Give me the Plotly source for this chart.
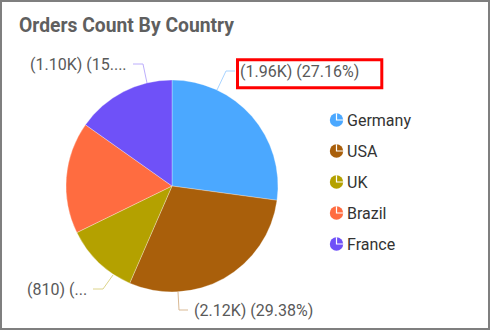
import plotly.graph_objects as go

# ---- data ----
countries = ["Germany", "USA", "UK", "Brazil", "France"]
orders = [1960, 2120, 810, 1230, 1097]
colors = ["#4BA8FF", "#A95F0B", "#B4A100", "#FF6C40", "#6F51F8"]
line_colors = ["#A9D4FF", "#D9B994", "#DDD48A", "#FFB8A3", "#BCAEFC"]
label_texts = ["(1.96K) (27.16%)", "(2.12K) (29.38%)", "(810) (...", None, "(1.10K) (15...."]

W, H = 490, 330
fig = go.Figure()

fig.add_trace(go.Pie(
    labels=countries, values=orders, sort=False, direction="clockwise",
    rotation=0, textinfo="none", showlegend=False,
    marker=dict(colors=colors, line=dict(color="rgba(255,255,255,0.6)", width=0.5)),
    domain=dict(x=[66 / W, 278 / W], y=[38 / H, 250 / H]),
))
# invisible helper trace for pixel-coordinate overlay axes
fig.add_trace(go.Scatter(x=[], y=[], showlegend=False, hoverinfo="skip"))

# label connector geometry (layout decoration, in pixels)
connectors = {
    0: [(217, 90), (226, 71), (235, 71)],
    1: [(178, 292), (179, 310), (188, 310)],
    2: [(113, 275), (103, 289), (93, 289)],
    4: [(147, 83), (143, 64), (133, 64)],
}
label_pos = {0: (238, 71, "left"), 1: (192, 310, "left"), 2: (89, 289, "right"), 4: (129, 64, "right")}

shapes = []
annotations = []
for i, pts in connectors.items():
    path = "M " + " L ".join(f"{x},{y}" for x, y in pts)
    shapes.append(dict(type="path", path=path, xref="x", yref="y",
                       line=dict(color=line_colors[i], width=1)))
for i, (x, y, side) in label_pos.items():
    annotations.append(dict(x=x, y=y, xref="x", yref="y", text=label_texts[i],
                            showarrow=False, xanchor=side, yanchor="middle",
                            font=dict(family="Roboto", size=16, color="#595959")))

# custom legend with pie-like icons
for k, name in enumerate(countries):
    cy = 120 + 31 * k
    cx = 336.5
    r = 6.7
    shapes.append(dict(type="circle", xref="x", yref="y", x0=cx - r, x1=cx + r,
                       y0=cy - r, y1=cy + r, fillcolor=colors[k], line=dict(width=0)))
    shapes.append(dict(type="path", xref="x", yref="y",
                       path=f"M {cx},{cy - r} L {cx},{cy} L {cx + r},{cy}",
                       line=dict(color="white", width=1.2)))
    annotations.append(dict(x=345, y=cy, xref="x", yref="y", text=name, showarrow=False,
                            xanchor="left", yanchor="middle",
                            font=dict(family="Roboto", size=16, color="#333333")))

# highlight box
shapes.append(dict(type="rect", xref="x", yref="y", x0=237.5, x1=381.8, y0=59.8, y1=87.8,
                   line=dict(color="#FF0000", width=3)))
# outer border
shapes.append(dict(type="rect", xref="x", yref="y", x0=1, x1=489, y0=1, y1=329,
                   line=dict(color="#7F7F7F", width=2)))

annotations.append(dict(x=17, y=25, xref="x", yref="y", text="<b>Orders Count By Country</b>",
                        showarrow=False, xanchor="left", yanchor="middle",
                        font=dict(family="Roboto", size=19.3, color="#5F5F5F")))

fig.update_layout(
    width=W, height=H, margin=dict(l=0, r=0, t=0, b=0),
    paper_bgcolor="white", plot_bgcolor="rgba(0,0,0,0)",
    xaxis=dict(range=[0, W], domain=[0, 1], visible=False, fixedrange=True),
    yaxis=dict(range=[H, 0], domain=[0, 1], visible=False, fixedrange=True),
    shapes=shapes, annotations=annotations,
)

fig.write_html("out.html")
